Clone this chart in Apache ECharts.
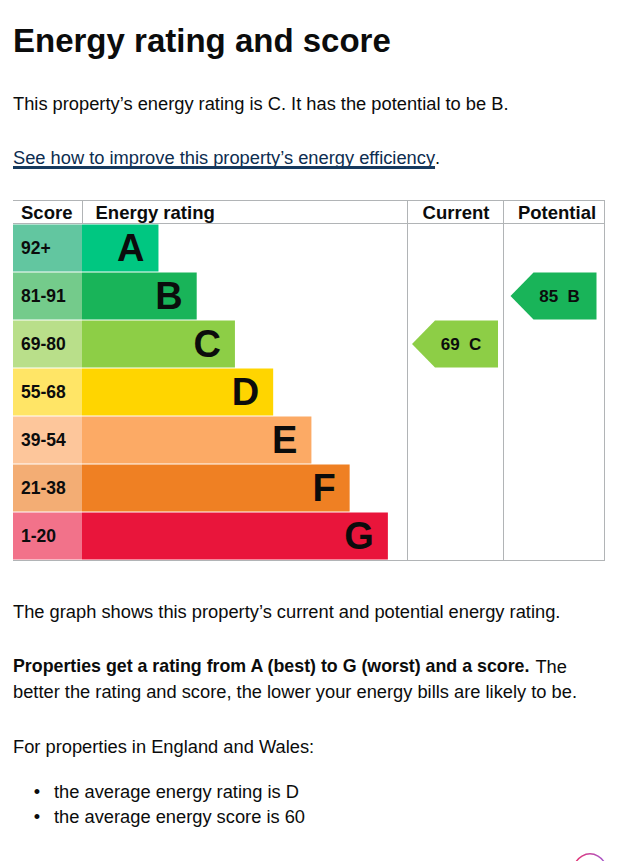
<!DOCTYPE html>
<html>
<head>
<meta charset="utf-8">
<title>Energy rating and score</title>
<script src="https://cdn.jsdelivr.net/npm/echarts@6/dist/echarts.min.js"></script>
<style>
  html, body { margin: 0; padding: 0; background: #fff; }
  #chart { width: 625px; height: 861px; }
</style>
</head>
<body>
<div id="chart"></div>
<script>
// bands, their score ranges and bar lengths (in rating steps)
const bands = ['A', 'B', 'C', 'D', 'E', 'F', 'G'];
const scoreRanges = ['92+', '81-91', '69-80', '55-68', '39-54', '21-38', '1-20'];
const barLengths = [2, 3, 4, 5, 6, 7, 8];
const bandColors = ['#00c781', '#19b459', '#8dce46', '#ffd500', '#fcaa65', '#ef8023', '#e9153b'];
const scoreColors = ['#62c6a0', '#74cb8b', '#b9df8a', '#ffe566', '#fdc69b', '#f3ad74', '#f2728a'];
const columnHeaders = ['Score', 'Energy rating', 'Current', 'Potential'];
// [score, band]
const currentRating = [69, 'C'];
const potentialRating = [85, 'B'];

const INK = '#0b0c0c';
const LINE = '#b1b4b6';
const ARIAL = '"Liberation Sans", Arial, sans-serif';
const BODY = '"Liberation Sans", Arial, sans-serif';
const BODY_SIZE = 18.3;
const BOLD_SIZE = 17.8;

// table frame
const tbl = { left: 13, score: 82, bars: 407, cur: 503, right: 604, top: 200, head: 224, bottom: 560 };
const rowsH = tbl.bottom - tbl.head;

function cellGrid(l, r) {
    return { left: l, top: tbl.head, width: r - l, height: rowsH, containLabel: false };
}
function hLine(y, x1, x2) {
    return { type: 'line', silent: true, shape: { x1: x1, y1: y, x2: x2, y2: y }, style: { stroke: LINE, lineWidth: 1 } };
}
function vLine(x, y1, y2) {
    return { type: 'line', silent: true, shape: { x1: x, y1: y1, x2: x, y2: y2 }, style: { stroke: LINE, lineWidth: 1 } };
}
function txt(x, y, text, size, opts) {
    return {
        type: 'text', x: x, y: y, silent: true,
        style: Object.assign({
            text: text, fill: INK, font: size + 'px ' + BODY,
            textVerticalAlign: 'middle', textAlign: 'left'
        }, opts || {})
    };
}

// width of the link text, for its underline
const linkText = 'See how to improve this property\u2019s energy efficiency';
let ctx = document.createElement('canvas').getContext('2d');
ctx.font = BODY_SIZE + 'px ' + BODY;
const linkWidth = ctx.measureText(linkText).width;

const arrowPath = 'path://M0,24L23,0L86,0L86,48L23,48Z';

function ratingMarker(rating) {
    let i = bands.indexOf(rating[1]);
    return {
        value: [0.5, rating[1]],
        itemStyle: { color: bandColors[i], opacity: 1 },
        label: {
            show: true, position: 'inside', offset: [6, 0],
            formatter: rating[0] + '\u00a0\u00a0' + rating[1],
            color: INK, fontFamily: ARIAL, fontWeight: 'bold', fontSize: 17
        }
    };
}

let chart = echarts.init(document.getElementById('chart'), null, { renderer: 'svg' });

let option = {
    animation: false,
    backgroundColor: '#fff',
    grid: [
        cellGrid(tbl.left, tbl.score),
        cellGrid(tbl.score, tbl.bars),
        cellGrid(tbl.bars, tbl.cur),
        cellGrid(tbl.cur, tbl.right)
    ],
    xAxis: [
        { type: 'value', gridIndex: 0, min: 0, max: 1, show: false },
        { type: 'value', gridIndex: 1, min: 0, max: 8.5, show: false },
        { type: 'value', gridIndex: 2, min: 0, max: 1, show: false },
        { type: 'value', gridIndex: 3, min: 0, max: 1, show: false }
    ],
    yAxis: [0, 1, 2, 3].map(i => ({
        type: 'category', gridIndex: i, data: bands, inverse: true, show: false
    })),
    series: [
        {
            name: 'Score',
            type: 'bar', xAxisIndex: 0, yAxisIndex: 0,
            barCategoryGap: '2%',
            data: scoreRanges.map((s, i) => ({ value: 1, itemStyle: { color: scoreColors[i] } })),
            label: {
                show: true, position: 'insideLeft', distance: 8,
                formatter: p => scoreRanges[p.dataIndex],
                color: INK, fontFamily: ARIAL, fontWeight: 'bold', fontSize: 17.5
            }
        },
        {
            name: 'Energy rating',
            type: 'bar', xAxisIndex: 1, yAxisIndex: 1,
            barCategoryGap: '2%',
            data: barLengths.map((v, i) => ({ value: v, itemStyle: { color: bandColors[i] } })),
            label: {
                show: true, position: 'insideRight', distance: 14,
                formatter: p => bands[p.dataIndex],
                color: INK, fontFamily: ARIAL, fontWeight: 'bold', fontSize: 38
            }
        },
        {
            name: 'Current',
            type: 'scatter', xAxisIndex: 2, yAxisIndex: 2,
            symbol: arrowPath, symbolSize: [86, 47],
            data: [ratingMarker(currentRating)]
        },
        {
            name: 'Potential',
            type: 'scatter', xAxisIndex: 3, yAxisIndex: 3,
            symbol: arrowPath, symbolSize: [86, 47],
            data: [ratingMarker(potentialRating)]
        }
    ],
    graphic: [
        // table frame
        hLine(tbl.top + 0.5, tbl.left, tbl.right + 1),
        hLine(tbl.head - 0.5, tbl.left, tbl.right + 1),
        hLine(tbl.bottom + 0.5, tbl.left, tbl.right + 1),
        vLine(tbl.score + 0.5, tbl.top, tbl.head),
        vLine(tbl.bars + 0.5, tbl.top, tbl.bottom + 1),
        vLine(tbl.cur + 0.5, tbl.top, tbl.bottom + 1),
        vLine(tbl.right + 0.5, tbl.top, tbl.bottom + 1),
        // table headers
        txt(21, 212.5, columnHeaders[0], 18.5, { font: 'bold 18.5px ' + ARIAL }),
        txt(95.5, 212.5, columnHeaders[1], 18.5, { font: 'bold 18.5px ' + ARIAL }),
        txt(456, 212.5, columnHeaders[2], 18.5, { font: 'bold 18.5px ' + ARIAL, textAlign: 'center' }),
        txt(557, 212.5, columnHeaders[3], 18.5, { font: 'bold 18.5px ' + ARIAL, textAlign: 'center' }),
        // page text
        txt(13, 40, 'Energy rating and score', 33, { font: 'bold 33px ' + ARIAL }),
        txt(13, 103, 'This property\u2019s energy rating is C. It has the potential to be B.', BODY_SIZE),
        txt(13, 157.5, '{a|' + linkText + '}.', BODY_SIZE, {
            rich: { a: { fill: '#0d2d50', fontFamily: BODY, fontSize: BODY_SIZE } }
        }),
        { type: 'rect', silent: true, shape: { x: 13, y: 166, width: linkWidth, height: 3 }, style: { fill: '#173a5e' } },
        txt(13, 611, 'The graph shows this property\u2019s current and potential energy rating.', BODY_SIZE),
        txt(13, 666, '{b|Properties get a rating from A (best) to G (worst) and a score.} The', BODY_SIZE, {
            rich: { b: { fontWeight: 'bold', fontFamily: BODY, fontSize: BOLD_SIZE, fill: INK } }
        }),
        txt(13, 691, 'better the rating and score, the lower your energy bills are likely to be.', BODY_SIZE),
        txt(13, 746, 'For properties in England and Wales:', BODY_SIZE),
        txt(37, 791, '\u2022', BODY_SIZE, { textAlign: 'center' }),
        txt(54, 791, 'the average energy rating is D', BODY_SIZE),
        txt(37, 816, '\u2022', BODY_SIZE, { textAlign: 'center' }),
        txt(54, 816, 'the average energy score is 60', BODY_SIZE),
        {
            type: 'circle', silent: true, shape: { cx: 590, cy: 870, r: 16 },
            style: {
                fill: 'none', lineWidth: 1.5,
                stroke: new echarts.graphic.LinearGradient(0, 0, 1, 0, [
                    { offset: 0, color: '#e8306e' }, { offset: 1, color: '#a25ad0' }
                ])
            }
        }
    ]
};

chart.setOption(option);
</script>
</body>
</html>
